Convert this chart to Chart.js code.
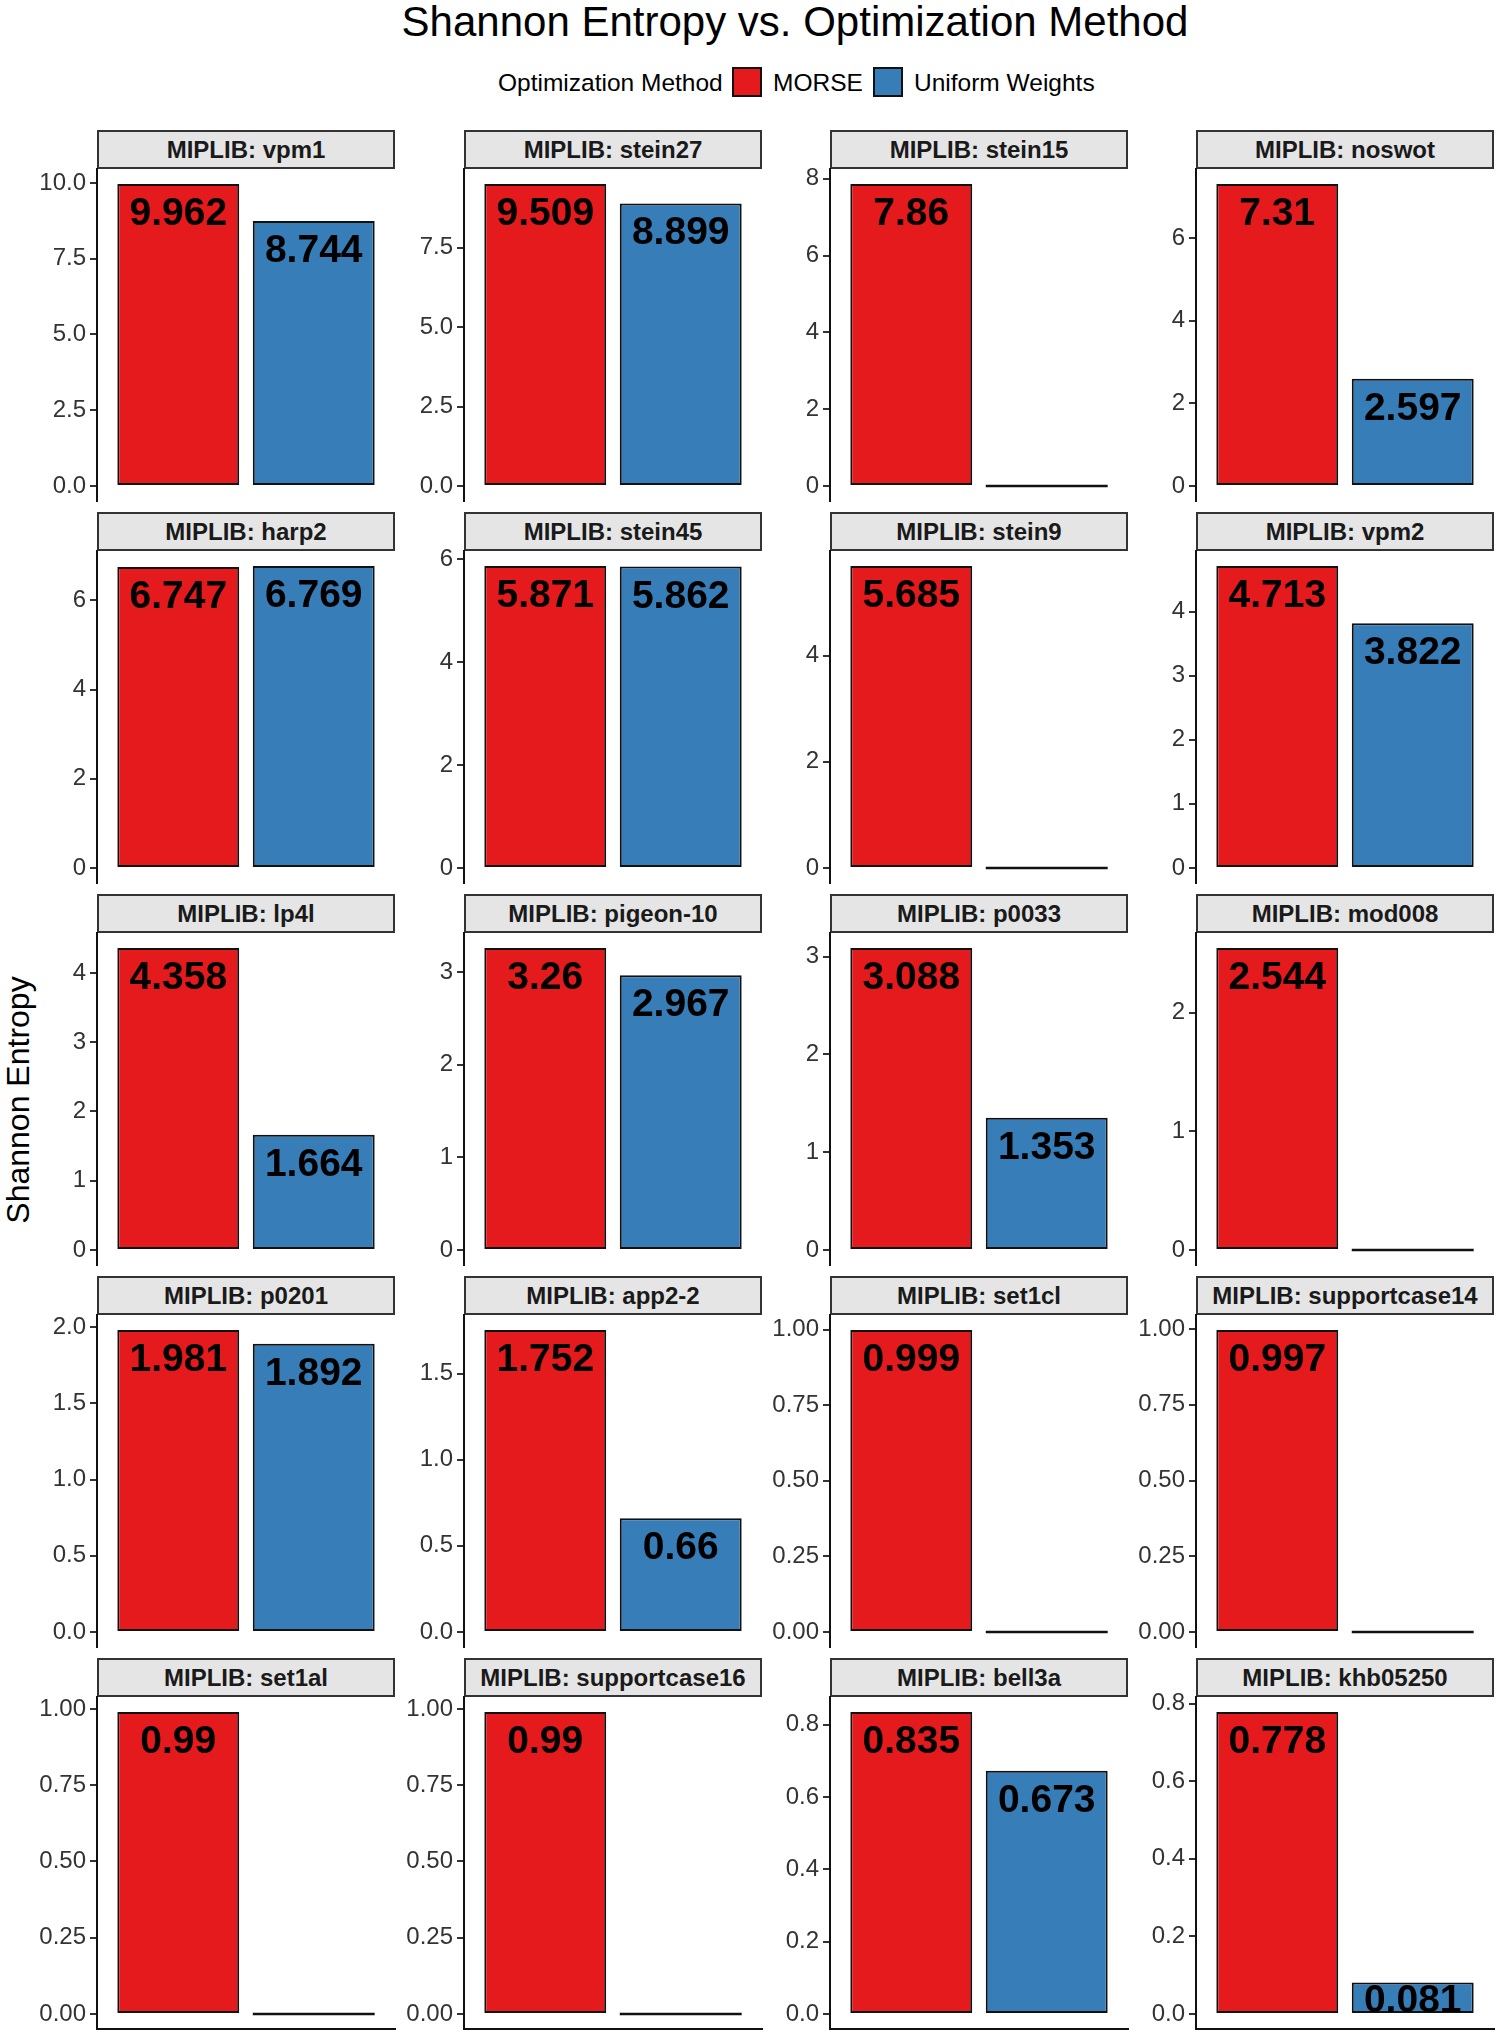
<!DOCTYPE html>
<html>
<head>
<meta charset="utf-8">
<script src="https://cdn.jsdelivr.net/npm/chart.js@4.4.1/dist/chart.umd.min.js"></script>
<style>
  html, body { margin: 0; padding: 0; background: #fff; }
  #fig { position: relative; width: 1500px; height: 2036px; overflow: hidden; font-family: "Liberation Sans", Arial, sans-serif; }
  .abs { position: absolute; white-space: nowrap; }
  .strip { position: absolute; box-sizing: border-box; border: 2px solid #333; background: #e5e5e5;
           font-weight: bold; font-size: 24px; line-height: 35px; text-align: center; color: #1a1a1a; }
  .key { position: absolute; box-sizing: border-box; border: 2px solid #111; width: 30px; height: 30px; }
  canvas { position: absolute; }
</style>
</head>
<body>
<div id="fig">
  <div class="abs" style="left:295px; top:1px; width:1000px; text-align:center; font-size:42px; line-height:42px; color:#000;">Shannon Entropy vs. Optimization Method</div>
  <div class="abs" style="left:498px; top:71px; font-size:24.5px; line-height:24.5px; color:#000;">Optimization Method</div>
  <div class="key" style="left:732px; top:67px; background:#E41A1C;"></div>
  <div class="abs" style="left:773px; top:71px; font-size:24.5px; line-height:24.5px; color:#000;">MORSE</div>
  <div class="key" style="left:873px; top:67px; background:#377EB8;"></div>
  <div class="abs" style="left:914px; top:71px; font-size:24.5px; line-height:24.5px; color:#000;">Uniform Weights</div>
  <div class="abs" style="left:-182px; top:1084px; width:400px; height:32px; line-height:32px; font-size:32px; text-align:center; transform:rotate(-90deg); transform-origin:50% 50%; color:#000;">Shannon Entropy</div>
</div>
<script>
// ---- data ----
const instances = ['vpm1','stein27','stein15','noswot','harp2','stein45','stein9','vpm2',
  'lp4l','pigeon-10','p0033','mod008','p0201','app2-2','set1cl','supportcase14',
  'set1al','supportcase16','bell3a','khb05250'];
const methods = ['MORSE', 'Uniform Weights'];
const morse = [9.962, 9.509, 7.86, 7.31, 6.747, 5.871, 5.685, 4.713,
  4.358, 3.26, 3.088, 2.544, 1.981, 1.752, 0.999, 0.997,
  0.99, 0.99, 0.835, 0.778];
const uniform = [8.744, 8.899, 0, 2.597, 6.769, 5.862, 0, 3.822,
  1.664, 2.967, 1.353, 0, 1.892, 0.66, 0, 0,
  0, 0, 0.673, 0.081];
const tickLabels = [
  ['0.0','2.5','5.0','7.5','10.0'], ['0.0','2.5','5.0','7.5'], ['0','2','4','6','8'], ['0','2','4','6'],
  ['0','2','4','6'], ['0','2','4','6'], ['0','2','4'], ['0','1','2','3','4'],
  ['0','1','2','3','4'], ['0','1','2','3'], ['0','1','2','3'], ['0','1','2'],
  ['0.0','0.5','1.0','1.5','2.0'], ['0.0','0.5','1.0','1.5'], ['0.00','0.25','0.50','0.75','1.00'], ['0.00','0.25','0.50','0.75','1.00'],
  ['0.00','0.25','0.50','0.75','1.00'], ['0.00','0.25','0.50','0.75','1.00'], ['0.0','0.2','0.4','0.6','0.8'], ['0.0','0.2','0.4','0.6','0.8']
];

// ---- layout / style ----
const FONT = '"Liberation Sans", Arial, sans-serif';
const fills = ['#E41A1C', '#377EB8'];
const colLeft = [97, 464, 830, 1196];
const rowTop = [169, 551, 933, 1315, 1697];
const PW = 298, PH = 332, STRIP_H = 39;
const AXW = 90, PADT = 20, PADB = 10, PADR = 6;
const NCOL = 4;

const valueLabels = {
  id: 'valueLabels',
  afterDatasetsDraw(chart) {
    const ctx = chart.ctx;
    const meta = chart.getDatasetMeta(0);
    const fs = 39;
    ctx.save();
    ctx.font = 'bold ' + fs + 'px ' + FONT;
    ctx.fillStyle = '#000';
    ctx.textAlign = 'center';
    ctx.textBaseline = 'alphabetic';
    meta.data.forEach((el, i) => {
      const v = chart.data.datasets[0].data[i].y;
      if (!v) return;
      const center = Math.min(el.y + 27, (el.y + el.base) / 2);
      ctx.fillText(String(v), el.x, center + 0.358 * fs);
    });
    ctx.restore();
  }
};

const fig = document.getElementById('fig');
instances.forEach((name, p) => {
  const r = Math.floor(p / NCOL), c = p % NCOL;
  const left = colLeft[c], top = rowTop[r];
  const isBottom = r === rowTop.length - 1;

  const strip = document.createElement('div');
  strip.className = 'strip';
  strip.style.left = left + 'px';
  strip.style.top = (top - STRIP_H) + 'px';
  strip.style.width = PW + 'px';
  strip.style.height = STRIP_H + 'px';
  strip.textContent = 'MIPLIB: ' + name;
  fig.appendChild(strip);

  const cv = document.createElement('canvas');
  const W = AXW + PW + PADR, H = PADT + PH + PADB;
  cv.width = W; cv.height = H;
  cv.style.width = W + 'px'; cv.style.height = H + 'px';
  cv.style.left = (left - AXW) + 'px';
  cv.style.top = (top - PADT) + 'px';
  fig.appendChild(cv);

  const M = Math.max(morse[p], uniform[p]);
  const labels = tickLabels[p];
  new Chart(cv, {
    type: 'bar',
    data: {
      datasets: [{
        label: name,
        data: [{ x: 1, y: morse[p] }, { x: 2, y: uniform[p] }],
        backgroundColor: (ctx) => (ctx.raw && ctx.raw.y === 0) ? '#111' : fills[ctx.dataIndex],
        borderColor: '#111',
        borderWidth: (ctx) => (ctx.raw && ctx.raw.y === 0) ? 0 : 2,
        borderSkipped: false,
        minBarLength: 2.5,
        categoryPercentage: 1,
        barPercentage: 0.9
      }]
    },
    options: {
      responsive: false,
      animation: false,
      devicePixelRatio: 1,
      layout: { padding: { top: PADT, bottom: PADB, left: 0, right: PADR } },
      plugins: { legend: { display: false }, tooltip: { enabled: false } },
      scales: {
        x: {
          type: 'linear', min: 0.4, max: 2.6, offset: false, display: isBottom,
          afterBuildTicks: (s) => { s.ticks = [{ value: 1 }, { value: 2 }]; },
          afterFit: (s) => { s.height = 0; s.paddingLeft = 0; s.paddingRight = 0; },
          ticks: { display: false },
          grid: { display: false, offset: false },
          border: { display: isBottom, color: '#111', width: 2 }
        },
        y: {
          min: -0.05 * M, max: 1.05 * M,
          afterBuildTicks: (s) => { s.ticks = labels.map(l => ({ value: parseFloat(l) })); },
          afterFit: (s) => { s.width = AXW; s.paddingTop = 0; s.paddingBottom = 0; },
          ticks: {
            autoSkip: false,
            callback: (v, i) => labels[i],
            font: { size: 24, family: FONT },
            color: '#333',
            padding: 4
          },
          grid: { drawOnChartArea: false, drawTicks: true, tickLength: 7, color: '#333', lineWidth: 2 },
          border: { display: true, color: '#111', width: 2 }
        }
      }
    },
    plugins: [valueLabels]
  });
});
</script>
</body>
</html>
